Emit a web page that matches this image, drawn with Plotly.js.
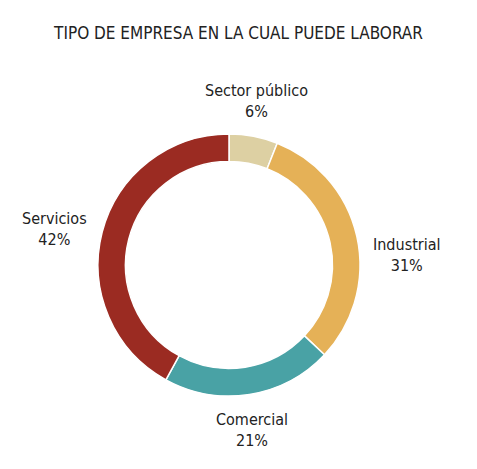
<!DOCTYPE html>
<html>
<head>
<meta charset="utf-8">
<script src="https://cdn.plot.ly/plotly-3.0.1.min.js"></script>
<style>html,body{margin:0;padding:0;background:#fff;}</style>
</head>
<body>
<div id="chart" style="width:477px;height:469px;"></div>
<script>
const categories = ["Sector público", "Industrial", "Comercial", "Servicios"];
const values = [6, 31, 21, 42];
const colors = ["#ddd0a3", "#e5b157", "#49a2a5", "#9b2b22"];

const FONT = "DejaVu Sans Condensed, Liberation Sans Narrow, sans-serif";

const trace = {
  type: "pie",
  labels: categories,
  values: values,
  sort: false,
  direction: "clockwise",
  rotation: 0,
  hole: 0.79,
  marker: { colors: colors, line: { color: "#ffffff", width: 1.5 } },
  textinfo: "none",
  showlegend: false,
  hoverinfo: "none"
};

// outside labels placed along each slice's mid-angle
const total = values.reduce((a, b) => a + b, 0);
const annotations = [];
let cum = 0;
const R = 145;
values.forEach((v, i) => {
  const mid = (cum + v / 2) / total * 2 * Math.PI;
  cum += v;
  const s = Math.sin(mid), c = Math.cos(mid);
  const pct = Math.round(v / total * 100);
  annotations.push({
    x: 0.5, y: 0.5, xref: "paper", yref: "paper",
    xshift: R * s, yshift: R * c,
    xanchor: s > 0.3 ? "left" : (s < -0.3 ? "right" : "center"),
    yanchor: c > 0.3 ? "bottom" : (c < 0.23 ? "top" : "middle"),
    showarrow: false, align: "center",
    text: categories[i] + "<br>" + pct + "%",
    font: { family: FONT, size: 16, color: "#222222" }
  });
});

const layout = {
  width: 477,
  height: 469,
  margin: { l: 98, r: 117, t: 134, b: 73 },
  paper_bgcolor: "#ffffff",
  title: {
    text: "TIPO DE EMPRESA EN LA CUAL PUEDE LABORAR",
    font: { family: FONT, size: 17, color: "#222222" },
    x: 0.5, xanchor: "center", y: 0.93, yanchor: "middle", yref: "container"
  },
  annotations: annotations,
  showlegend: false
};

Plotly.newPlot("chart", [trace], layout, { displayModeBar: false, staticPlot: true });
</script>
</body>
</html>
